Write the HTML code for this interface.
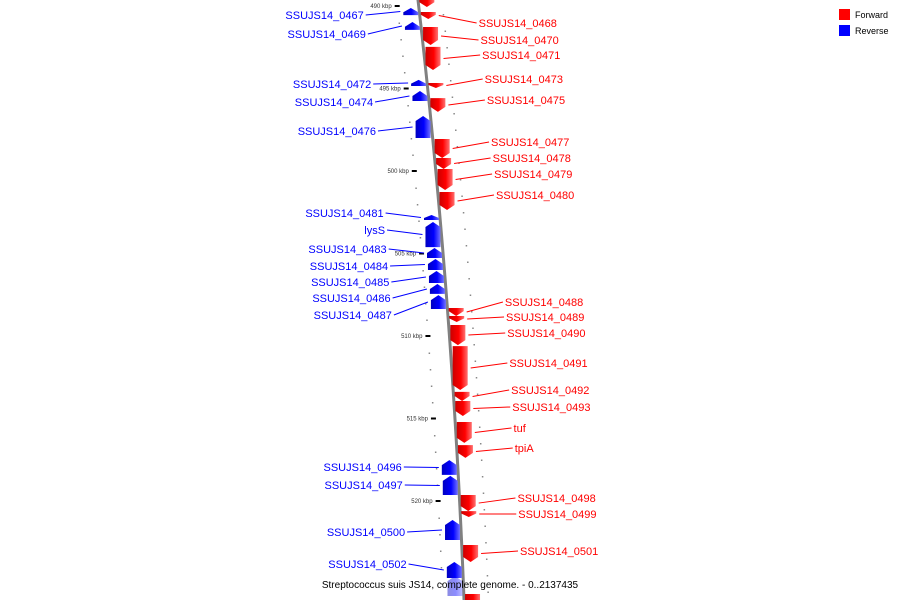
<!DOCTYPE html>
<html><head><meta charset="utf-8"><style>
html,body{margin:0;padding:0;background:#fff;}
svg{display:block;font-family:"Liberation Sans",sans-serif;}
</style></head><body>
<svg id="chart" width="900" height="600" viewBox="0 0 900 600" xmlns="http://www.w3.org/2000/svg">
<defs>
<linearGradient id="gr" x1="0" x2="1" y1="0" y2="0"><stop offset="0" stop-color="#c00"/><stop offset="0.55" stop-color="#f00"/><stop offset="1" stop-color="#ff7070"/></linearGradient>
<linearGradient id="gb" x1="0" x2="1" y1="0" y2="0"><stop offset="0" stop-color="#0000c0"/><stop offset="0.55" stop-color="#00f"/><stop offset="1" stop-color="#7070ff"/></linearGradient>
</defs>
<g id="ticks"></g>
<path id="axis" fill="none" stroke="#808080" stroke-width="3"/>
<g id="genes"></g>
<g id="labels"></g>
<text x="450" y="588" text-anchor="middle" font-size="10" fill="#000">Streptococcus suis JS14, complete genome. - 0..2137435</text>
<g>
<rect x="839" y="9" width="11" height="11" fill="#f00"/>
<text x="855" y="18" font-size="9" fill="#000">Forward</text>
<rect x="839" y="25" width="11" height="11" fill="#00f"/>
<text x="855" y="34" font-size="9" fill="#000">Reverse</text>
</g>
</svg>
<script>
const fwdNames=["","SSUJS14_0468","SSUJS14_0470","SSUJS14_0471","SSUJS14_0473","SSUJS14_0475","SSUJS14_0477","SSUJS14_0478","SSUJS14_0479","SSUJS14_0480","SSUJS14_0488","SSUJS14_0489","SSUJS14_0490","SSUJS14_0491","SSUJS14_0492","SSUJS14_0493","tuf","tpiA","SSUJS14_0498","SSUJS14_0499","SSUJS14_0501",""];
const fwdStart=[489.58,490.36,491.27,492.48,494.67,495.58,498.06,499.21,499.88,501.27,508.30,508.79,509.33,510.61,513.39,513.94,515.21,516.61,519.64,520.61,522.67,525.64];
const fwdEnd=[490.06,490.79,492.36,493.88,494.97,496.42,499.21,499.88,501.15,502.36,508.79,509.15,510.55,513.27,513.94,514.85,516.48,517.39,520.61,520.97,523.70,526.36];
const fwdLabelY=[0,23,40,55,79,100,142,158,174,195,302,317,333,363,390,407,428,448,498,514,551,0];
const revNames=["SSUJS14_0467","SSUJS14_0469","SSUJS14_0472","SSUJS14_0474","SSUJS14_0476","SSUJS14_0481","lysS","SSUJS14_0483","SSUJS14_0484","SSUJS14_0485","SSUJS14_0486","SSUJS14_0487","SSUJS14_0496","SSUJS14_0497","SSUJS14_0500","SSUJS14_0502",""];
const revStart=[490.12,490.97,494.48,495.15,496.67,502.67,503.09,504.67,505.33,506.06,506.85,507.52,517.52,518.48,521.15,523.70,524.55];
const revEnd=[490.55,491.45,494.85,495.76,498.00,502.97,504.61,505.27,506.00,506.79,507.45,508.36,518.42,519.64,522.36,524.67,525.76];
const revLabelY=[15,34,84,102,131,213,230,249,266,282,298,315,467,485,532,564,0];
const tickKbp=[490,495,500,505,510,515,520];
const tickLabels=["490 kbp","495 kbp","500 kbp","505 kbp","510 kbp","515 kbp","520 kbp"];

const NS="http://www.w3.org/2000/svg";
function yScale(k){return 6+(k-490)*16.5;}
function lineX(y){return 418+0.115*y-0.0000638*y*y;}
function mk(tag,attrs,parent){const e=document.createElementNS(NS,tag);for(const k in attrs)e.setAttribute(k,attrs[k]);parent.appendChild(e);return e;}
let d="";for(let y=-5;y<=605;y+=5){d+=(y===-5?"M":"L")+lineX(y).toFixed(2)+","+y;}
document.getElementById("axis").setAttribute("d",d);

const tg=document.getElementById("ticks");
for(let k=489;k<=526;k++){
  const y=yScale(k);if(y<0||y>600)continue;
  const xl=lineX(y)-22,xr=lineX(y)+24;
  const major=tickKbp.indexOf(k);
  if(major>=0){
    const t=mk("line",{x1:xl-2,x2:xl+3,y1:y,y2:y,stroke:"#000","stroke-width":2},tg);
    
    
    const tx=mk("text",{x:xl-5,y:y+2,"font-size":6,"text-anchor":"end",fill:"#333"},tg);
    
    
    tx.textContent=tickLabels[major];
  }else{
    const c=mk("rect",{x:xl,y:y,width:1.5,height:1.5,fill:"#888"},tg);
    
    
  }
  const c2=mk("rect",{x:xr,y:y+8,width:1.5,height:1.5,fill:"#888"},tg);
  
  
}

const gg=document.getElementById("genes"),lg=document.getElementById("labels");
function gene(s,e,fwd,name,ly,light){
  const y0=yScale(s),y1=yScale(e),h=y1-y0,tip=Math.min(5,h*0.6),ym=(y0+y1)/2;
  const w=15;
  let x0;let pts;
  if(fwd){x0=lineX(ym)+1;pts=[[x0,y0],[x0+w,y0],[x0+w,y1-tip],[x0+w/2,y1],[x0,y1-tip]];}
  else{x0=lineX(ym)-1-w;pts=[[x0,y0+tip],[x0+w/2,y0],[x0+w,y0+tip],[x0+w,y1],[x0,y1]];}
  const p=mk("polygon",{points:pts.map(q=>q.join(",")).join(" "),fill:fwd?"url(#gr)":"url(#gb)",opacity:light?0.45:1},gg);
  
  
  if(!name)return;
  const col=fwd?"#f00":"#00f";
  if(fwd){
    const lx=lineX(ly)+58;
    const l=mk("line",{x1:x0+w+3,y1:ym,x2:lx-2,y2:ly,stroke:col,"stroke-width":1},lg);
    
    
    const t=mk("text",{x:lx,y:ly+4,"font-size":11,fill:col},lg);
    
    
    t.textContent=name;
  }else{
    const lx=lineX(ly)-56;
    const l=mk("line",{x1:x0-3,y1:ym,x2:lx+2,y2:ly,stroke:col,"stroke-width":1},lg);
    
    
    const t=mk("text",{x:lx,y:ly+4,"font-size":11,fill:col,"text-anchor":"end"},lg);
    
    
    t.textContent=name;
  }
}
for(let i=0;i<fwdNames.length;i++)gene(fwdStart[i],fwdEnd[i],true,fwdNames[i],fwdLabelY[i],false);
for(let i=0;i<revNames.length;i++)gene(revStart[i],revEnd[i],false,revNames[i],revLabelY[i],revNames[i]==="");
</script>
</body></html>
